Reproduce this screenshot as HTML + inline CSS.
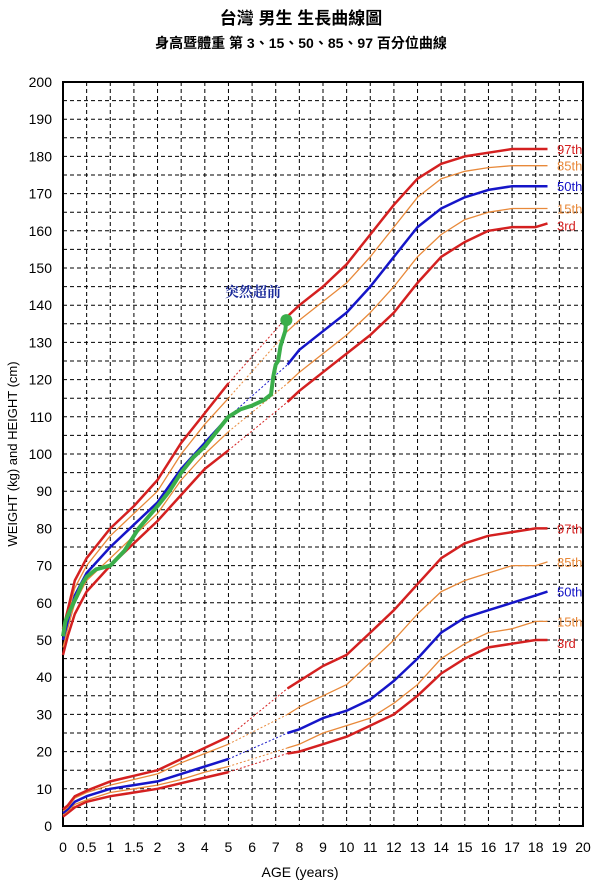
<!DOCTYPE html>
<html><head><meta charset="utf-8"><style>
body{margin:0;background:#fff;width:602px;height:885px;overflow:hidden}
svg{display:block;font-family:"Liberation Sans","Noto Sans CJK TC",sans-serif}
</style></head><body>
<svg id="s" width="602" height="885" xmlns="http://www.w3.org/2000/svg">
<text x="301" y="24" text-anchor="middle" font-size="17" font-weight="bold" font-family="Liberation Sans,'Noto Sans CJK TC',sans-serif">台灣 男生 生長曲線圖</text>
<text x="301" y="48" text-anchor="middle" font-size="14" font-weight="bold" font-family="Liberation Sans,'Noto Sans CJK TC',sans-serif">身高暨體重 第 3、15、50、85、97 百分位曲線</text>
<text x="300" y="877" text-anchor="middle" font-size="14">AGE (years)</text>
<text transform="translate(17,454) rotate(-90)" text-anchor="middle" font-size="13">WEIGHT (kg) and HEIGHT (cm)</text>
<g id="g"></g>
<text x="253" y="297" text-anchor="middle" font-size="14" fill="#1a2a9a" font-family="'Noto Serif CJK SC',serif" font-weight="bold">突然超前</text>
</svg>
<script>
var g=document.getElementById('g'),h='';
var L=63,T=82,R=583,B=826;
function X(a){return a<=2?L+a*2*23.636:L+(a+2)*23.636}
function Y(v){return B-v*3.72}
for(var v=0;v<=200;v+=5){h+='<line x1="'+L+'" x2="'+R+'" y1="'+Y(v)+'" y2="'+Y(v)+'" stroke="#000" stroke-width="1" stroke-dasharray="4,3"/>';}
for(var i=1;i<22;i++){var x=L+i*23.636;h+='<line x1="'+x+'" x2="'+x+'" y1="'+T+'" y2="'+B+'" stroke="#000" stroke-width="1" stroke-dasharray="4,3"/>';}
h+='<rect x="'+L+'" y="'+T+'" width="'+(R-L)+'" height="'+(B-T)+'" fill="none" stroke="#000" stroke-width="2"/>';
for(var v=0;v<=200;v+=10)h+='<text x="52" y="'+(Y(v)+5)+'" text-anchor="end" font-size="14">'+v+'</text>';
var xl=[0,0.5,1,1.5,2,3,4,5,6,7,8,9,10,11,12,13,14,15,16,17,18,19,20];
xl.forEach(function(a){h+='<text x="'+X(a)+'" y="852" text-anchor="middle" font-size="14">'+a+'</text>'});
var A1=[0,0.1,0.25,0.5,1,1.5,2,3,4,5],A2=[7.5,8,9,10,11,12,13,14,15,16,17,18,18.5];
var cols=['#d42020','#e8893a','#1515c8','#e8893a','#d42020'];
var wid=[2.5,1.3,2.5,1.3,2.5];
var H=[
[46,51,57,63,70,76,82,89,96,101,114,117,122,127,132,138,146,153,157,160,161,161,162],
[48,53,60,66,72,78,84,93,100,106,119,122,127,132,138,145,153,159,163,165,166,166,166],
[50,55,62,68,75,81,87,96,103,110,124,128,133,138,145,153,161,166,169,171,172,172,172],
[52,57,64,70,78,84,90,100,108,115,133,136,141,146,153,161,169,174,176,177,177.5,177.5,177.5],
[53,58,66,72,80,86,93,103,111,119,137,140,145,151,159,167,174,178,180,181,182,182,182]];
var W=[
[2.5,3.5,5,6.5,8,9,10,11.5,13,14.5,19.5,20,22,24,27,30,35,41,45,48,49,50,50],
[3,4,5.8,7,9,10,11,12.5,14.5,16,21,22,25,27,29,33,38,45,49,52,53,55,55],
[3.5,4.5,6.5,8,10,11,12,14,16,18,25,26,29,31,34,39,45,52,56,58,60,62,63],
[4,5,7.5,9,11,12.5,14,17,19.5,22,30,32,35,38,44,50,57,63,66,68,70,70,71],
[4.5,5.5,8,9.5,12,13.5,15,18,21,24,37,39,43,46,52,58,65,72,76,78,79,80,80]];
function pts(arr,ages,off){return ages.map(function(a,i){return X(a).toFixed(1)+','+Y(arr[i+off]).toFixed(1)}).join(' ')}
var lab=['3rd','15th','50th','85th','97th'];
[H,W].forEach(function(D){
for(var k=0;k<5;k++){var d=D[k];
h+='<polyline fill="none" stroke="'+cols[k]+'" stroke-width="'+wid[k]+'" stroke-linejoin="round" points="'+pts(d,A1,0)+'"/>';
h+='<polyline fill="none" stroke="'+cols[k]+'" stroke-width="'+wid[k]+'" stroke-linejoin="round" points="'+pts(d,A2,10)+'"/>';
h+='<line x1="'+X(5)+'" y1="'+Y(d[9])+'" x2="'+X(7.5)+'" y2="'+Y(d[10])+'" stroke="'+cols[k]+'" stroke-width="1" stroke-dasharray="2,2"/>';
var ly=Y(d[22])+5;if(D===H&&k==0)ly+=2;if(D===W&&k==0)ly+=3;
h+='<text x="557" y="'+ly+'" font-size="13" fill="'+cols[k]+'">'+lab[k]+'</text>';
}});
var G=[[0,51],[0.05,55],[0.15,58],[0.3,62],[0.4,65],[0.5,67],[0.7,69],[1,70],[1.3,74],[1.6,80],[2,86],[2.5,90],[3,95],[3.5,99],[4,102],[4.5,106],[5,110],[5.5,112],[6,113],[6.5,114.5],[6.8,116],[6.9,121],[7,124],[7.1,125],[7.2,129],[7.3,131],[7.4,133],[7.45,136]];
h+='<polyline fill="none" stroke="#3aae4a" stroke-width="4" stroke-linejoin="round" points="'+G.map(function(p){return X(p[0]).toFixed(1)+','+Y(p[1]).toFixed(1)}).join(' ')+'"/>';
h+='<circle cx="'+X(7.45)+'" cy="'+Y(136)+'" r="6" fill="#3aae4a"/>';
g.innerHTML=h;
</script>
</body></html>
